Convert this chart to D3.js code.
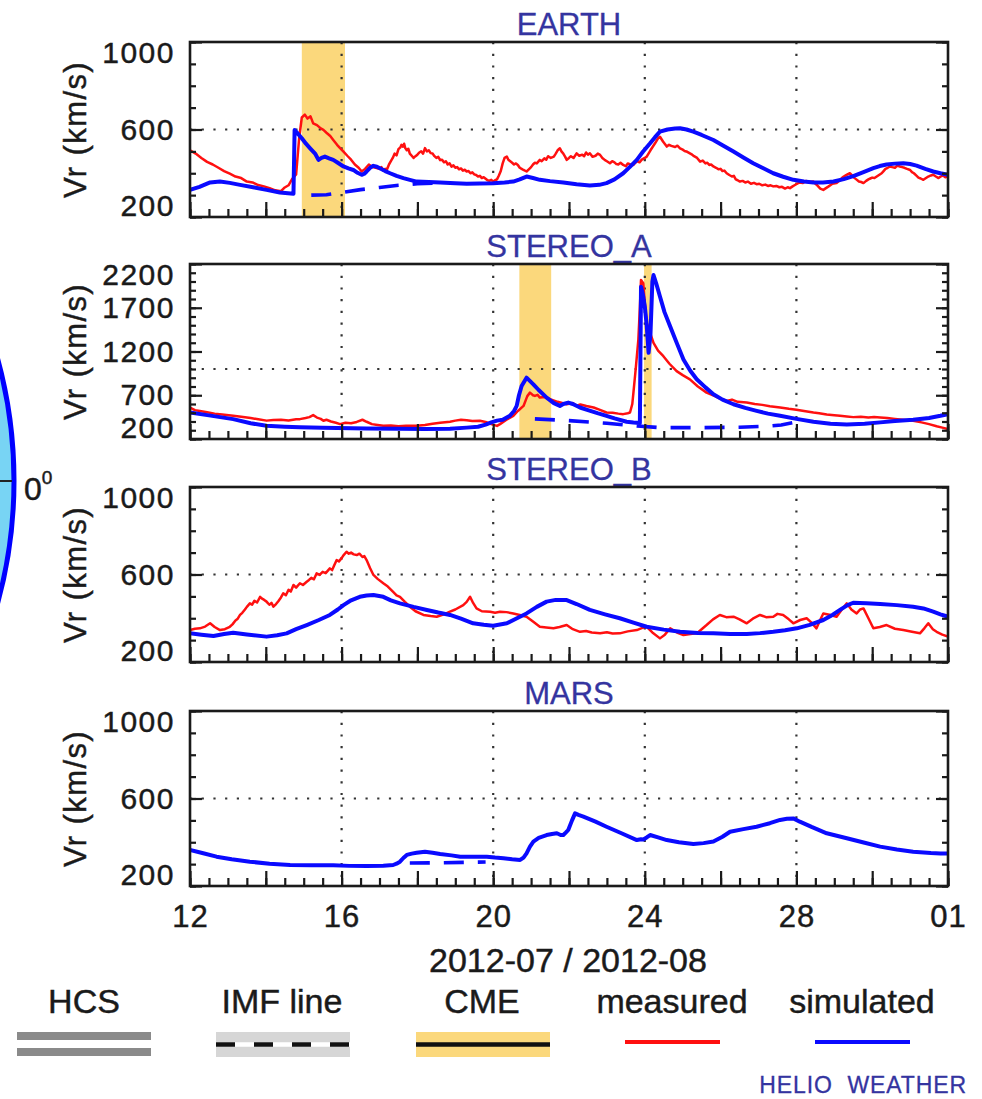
<!DOCTYPE html>
<html>
<head>
<meta charset="utf-8">
<script src="https://cdn.jsdelivr.net/npm/d3@7"></script>
<style>
  body { margin: 0; background: #fff; }
  svg { display: block; font-family: "Liberation Sans", Arial, Helvetica, sans-serif; }
</style>
</head>
<body>
<div id="chart"></div>
<script>
// ---- data: [days since 2012-07-12, Vr km/s] ----
const panelNames = ["EARTH", "STEREO_A", "STEREO_B", "MARS"];
const xTickLabels = ["12", "16", "20", "24", "28", "01"];
const xTickDays = [0, 4, 8, 12, 16, 20];
const yTicksNormal = [200, 600, 1000];
const yTicksStereoA = [200, 700, 1200, 1700, 2200];
const dateLabel = "2012-07 / 2012-08";
const legendLabels = ["HCS", "IMF line", "CME", "measured", "simulated"];

const earthMeasured = [[0,505],[0.15,490],[0.3,470],[0.45,452],[0.6,440],[0.75,425],[0.9,410],[1.05,398],[1.2,385],[1.35,378],[1.5,362],[1.65,358],[1.8,346],[1.95,340],[2.1,332],[2.25,322],[2.4,318],[2.5,335],[2.6,345],[2.7,375],[2.8,395],[2.88,560],[2.95,655],[3.03,668],[3.1,650],[3.18,660],[3.25,628],[3.35,620],[3.45,605],[3.52,598],[3.6,585],[3.7,570],[3.78,552],[3.88,530],[3.96,515],[4.05,499],[4.15,480],[4.25,462],[4.35,440],[4.45,425],[4.53,408],[4.62,420],[4.72,440],[4.8,430],[4.9,425],[5.0,420],[5.05,428],[5.1,412],[5.15,420],[5.2,418],[5.25,440],[5.3,455],[5.35,470],[5.4,490],[5.45,482],[5.5,510],[5.55,518],[5.58,530],[5.62,522],[5.65,535],[5.68,515],[5.72,505],[5.76,512],[5.8,490],[5.85,480],[5.9,470],[5.95,478],[6.0,485],[6.05,495],[6.1,500],[6.15,490],[6.2,515],[6.25,500],[6.3,505],[6.35,492],[6.4,490],[6.45,478],[6.5,470],[6.55,475],[6.6,460],[6.65,462],[6.7,450],[6.75,455],[6.8,440],[6.85,445],[6.9,430],[6.95,436],[7.0,425],[7.05,428],[7.1,418],[7.15,422],[7.2,412],[7.25,416],[7.3,408],[7.35,410],[7.4,400],[7.45,404],[7.5,395],[7.55,392],[7.6,385],[7.65,388],[7.7,378],[7.75,382],[7.8,375],[7.85,368],[7.9,365],[7.95,370],[8.0,362],[8.05,368],[8.1,372],[8.15,390],[8.2,410],[8.25,445],[8.3,470],[8.36,476],[8.4,462],[8.45,455],[8.5,448],[8.55,440],[8.6,445],[8.65,438],[8.7,425],[8.75,420],[8.8,415],[8.88,408],[8.94,418],[9.0,428],[9.05,440],[9.1,448],[9.15,445],[9.23,461],[9.28,455],[9.35,468],[9.4,462],[9.45,478],[9.52,470],[9.6,476],[9.65,490],[9.7,505],[9.76,514],[9.8,500],[9.85,490],[9.9,475],[9.94,461],[10.0,470],[10.05,478],[10.12,470],[10.2,491],[10.27,480],[10.35,485],[10.4,478],[10.45,495],[10.5,485],[10.55,491],[10.62,475],[10.7,480],[10.76,490],[10.82,484],[10.88,470],[10.95,460],[11.0,455],[11.08,446],[11.14,455],[11.2,450],[11.25,442],[11.3,440],[11.36,448],[11.43,438],[11.5,432],[11.55,445],[11.62,440],[11.7,438],[11.75,448],[11.8,455],[11.86,450],[11.92,462],[12.0,470],[12.05,476],[12.15,505],[12.27,537],[12.35,560],[12.4,567],[12.48,545],[12.58,522],[12.64,530],[12.7,525],[12.8,520],[12.86,526],[12.93,514],[13.0,508],[13.05,502],[13.12,498],[13.19,491],[13.25,485],[13.3,478],[13.38,470],[13.46,453],[13.53,458],[13.6,445],[13.65,448],[13.7,438],[13.75,440],[13.81,431],[13.88,425],[13.95,418],[14.0,420],[14.05,410],[14.1,412],[14.16,400],[14.23,392],[14.3,385],[14.35,388],[14.4,372],[14.45,368],[14.51,362],[14.58,365],[14.65,358],[14.72,362],[14.8,352],[14.88,356],[14.95,350],[15.02,352],[15.1,345],[15.18,348],[15.25,342],[15.32,345],[15.39,340],[15.47,342],[15.55,336],[15.62,338],[15.7,330],[15.77,336],[15.83,332],[15.9,340],[15.95,345],[16.02,352],[16.09,358],[16.17,355],[16.25,365],[16.35,360],[16.45,362],[16.5,352],[16.55,345],[16.63,330],[16.71,324],[16.78,332],[16.85,340],[16.95,352],[17.06,355],[17.13,365],[17.2,378],[17.25,385],[17.3,390],[17.36,396],[17.41,400],[17.47,390],[17.52,380],[17.58,372],[17.65,362],[17.71,360],[17.77,355],[17.84,365],[17.9,372],[17.95,376],[18.0,380],[18.06,378],[18.12,385],[18.18,392],[18.25,400],[18.3,410],[18.35,420],[18.41,425],[18.47,431],[18.53,428],[18.6,425],[18.66,435],[18.73,431],[18.79,428],[18.85,425],[18.92,420],[19.0,415],[19.05,405],[19.1,400],[19.16,390],[19.22,380],[19.28,376],[19.35,370],[19.42,378],[19.48,385],[19.55,390],[19.61,393],[19.68,385],[19.75,378],[19.8,384],[19.87,390],[19.93,382],[20,385]];
const earthSimulated = [[0,324],[0.25,338],[0.53,358],[0.79,362],[1.05,356],[1.32,347],[1.7,335],[2.02,324],[2.37,312],[2.73,306],[2.76,598],[2.85,580],[2.95,560],[3.06,535],[3.17,514],[3.3,490],[3.39,461],[3.47,470],[3.56,476],[3.67,468],[3.78,461],[3.9,448],[4.05,431],[4.18,422],[4.31,415],[4.42,402],[4.53,393],[4.6,398],[4.66,408],[4.75,425],[4.84,434],[4.93,430],[5.01,423],[5.15,410],[5.28,400],[5.45,388],[5.63,378],[5.8,370],[5.98,362],[6.3,360],[6.6,358],[7.0,354],[7.3,352],[7.65,353],[8.0,354],[8.3,358],[8.53,362],[8.7,372],[8.88,385],[9.05,378],[9.23,370],[9.5,364],[9.85,358],[10.2,350],[10.55,344],[10.8,347],[10.99,355],[11.2,372],[11.43,400],[11.6,428],[11.79,461],[11.95,498],[12.14,537],[12.27,565],[12.4,590],[12.6,600],[12.8,605],[12.93,606],[13.1,600],[13.28,590],[13.5,575],[13.81,552],[14.05,528],[14.34,499],[14.6,472],[14.86,446],[15.1,425],[15.39,400],[15.65,384],[15.92,370],[16.2,362],[16.45,358],[16.7,358],[16.98,362],[17.25,373],[17.5,387],[17.77,405],[18.03,423],[18.2,433],[18.38,440],[18.6,444],[18.82,446],[19.0,442],[19.17,435],[19.4,420],[19.61,408],[19.8,400],[20,393]];
const earthImf = [[3.2,300],[3.6,302],[4.0,312],[4.5,325],[5.0,335],[5.5,345],[6.0,352],[6.5,355]];
const earthCme = [[2.95,4.09]];

const stereoAMeasured = [[0,560],[0.13,530],[0.26,521],[0.45,505],[0.65,490],[0.85,480],[1.14,465],[1.35,455],[1.6,440],[1.8,425],[2.02,410],[2.2,418],[2.4,420],[2.6,412],[2.8,425],[2.9,427],[3.05,440],[3.15,450],[3.25,473],[3.35,445],[3.45,430],[3.52,408],[3.6,420],[3.72,400],[3.85,385],[3.96,370],[4.1,385],[4.25,380],[4.4,395],[4.55,420],[4.66,397],[4.8,370],[4.95,360],[5.1,351],[5.3,355],[5.5,345],[5.7,352],[5.98,351],[6.2,360],[6.4,375],[6.6,385],[6.86,397],[7.0,410],[7.15,420],[7.3,415],[7.45,405],[7.65,408],[7.8,395],[7.95,370],[8.1,350],[8.18,370],[8.35,420],[8.53,465],[8.65,520],[8.8,578],[8.9,690],[8.97,730],[9.05,700],[9.1,692],[9.17,705],[9.23,673],[9.35,680],[9.5,654],[9.7,625],[9.94,597],[10.1,610],[10.2,580],[10.3,595],[10.46,578],[10.65,560],[10.8,535],[10.99,503],[11.15,500],[11.3,490],[11.43,484],[11.55,495],[11.61,503],[11.67,600],[11.7,730],[11.76,1000],[11.83,1336],[11.87,1700],[11.9,2018],[11.96,1980],[12.0,1750],[12.05,1526],[12.15,1400],[12.23,1299],[12.35,1210],[12.49,1146],[12.65,1060],[12.84,976],[13.0,930],[13.19,882],[13.4,800],[13.63,730],[13.85,690],[14.0,660],[14.16,635],[14.3,650],[14.45,625],[14.69,616],[14.9,600],[15.1,590],[15.3,575],[15.57,560],[15.8,545],[16.0,535],[16.2,520],[16.45,503],[16.6,495],[16.8,480],[17.0,472],[17.15,465],[17.33,458],[17.5,450],[17.7,455],[17.9,445],[18.05,452],[18.21,446],[18.4,440],[18.6,430],[18.8,420],[19.08,408],[19.3,390],[19.5,370],[19.7,345],[19.85,330],[20,314]];
const stereoASimulated = [[0,503],[0.5,470],[1.14,427],[1.6,380],[2.02,351],[2.5,340],[2.9,333],[3.5,328],[4.66,321],[5.5,316],[6.2,314],[6.86,318],[7.3,330],[7.6,340],[7.8,365],[7.95,390],[8.1,410],[8.25,420],[8.44,465],[8.55,520],[8.62,578],[8.68,700],[8.75,805],[8.88,901],[9.06,825],[9.2,760],[9.41,673],[9.6,610],[9.76,578],[9.85,600],[9.98,616],[10.1,600],[10.29,560],[10.5,530],[10.75,495],[10.99,465],[11.2,435],[11.52,397],[11.7,388],[11.87,382],[11.9,1941],[11.95,1850],[12.0,1714],[12.05,1500],[12.1,1185],[12.15,1400],[12.2,2000],[12.23,2074],[12.3,1980],[12.4,1828],[12.52,1650],[12.67,1487],[12.85,1290],[13.02,1109],[13.2,980],[13.37,882],[13.6,790],[13.81,711],[14.05,650],[14.34,597],[14.65,555],[14.95,521],[15.25,490],[15.57,465],[16.0,430],[16.45,397],[16.9,375],[17.33,366],[17.8,375],[18.21,390],[18.6,405],[19.08,419],[19.5,440],[19.8,465],[20,484]];
const stereoAImf = [[9.1,430],[10.0,410],[11.0,380],[11.9,345],[12.4,330],[13.5,330],[14.5,335],[15.2,345],[15.6,360],[16.0,395]];
const stereoACme = [[8.69,9.53],[11.98,12.18]];

const stereoBMeasured = [[0,346],[0.13,352],[0.26,354],[0.4,362],[0.53,377],[0.65,360],[0.79,346],[0.92,350],[1.05,361],[1.12,372],[1.2,390],[1.26,398],[1.32,415],[1.38,425],[1.45,440],[1.5,452],[1.58,468],[1.64,462],[1.7,480],[1.77,472],[1.85,498],[1.9,490],[1.95,485],[2.02,476],[2.06,468],[2.1,462],[2.15,470],[2.2,453],[2.27,465],[2.33,478],[2.4,495],[2.46,514],[2.53,505],[2.6,530],[2.66,522],[2.73,552],[2.8,540],[2.9,560],[2.98,552],[3.08,567],[3.14,575],[3.2,585],[3.27,578],[3.34,605],[3.42,598],[3.5,612],[3.58,606],[3.69,628],[3.75,620],[3.8,640],[3.87,666],[3.93,660],[4.0,675],[4.06,690],[4.13,704],[4.19,695],[4.25,700],[4.32,692],[4.4,689],[4.47,695],[4.55,680],[4.6,684],[4.66,666],[4.75,630],[4.84,598],[4.95,580],[5.1,560],[5.22,545],[5.36,521],[5.45,505],[5.54,498],[5.67,475],[5.8,453],[5.95,432],[6.16,415],[6.35,410],[6.51,407],[6.7,418],[6.86,430],[7.0,440],[7.21,460],[7.3,475],[7.39,498],[7.47,470],[7.56,445],[7.7,432],[7.92,430],[8.05,425],[8.18,430],[8.35,428],[8.53,422],[8.7,415],[8.88,407],[9.05,385],[9.23,361],[9.4,358],[9.59,354],[9.75,360],[9.94,369],[10.1,350],[10.29,338],[10.45,342],[10.6,335],[10.82,331],[11.0,336],[11.15,330],[11.34,331],[11.55,340],[11.79,346],[11.92,355],[12.05,361],[12.2,335],[12.4,308],[12.53,325],[12.67,354],[12.85,335],[13.02,323],[13.2,328],[13.37,331],[13.5,350],[13.63,369],[13.8,395],[13.98,415],[14.15,405],[14.34,407],[14.5,395],[14.69,377],[14.85,398],[15.04,415],[15.2,405],[15.39,407],[15.5,420],[15.65,415],[15.8,395],[15.92,377],[16.1,392],[16.27,400],[16.4,380],[16.53,354],[16.62,390],[16.71,422],[16.9,415],[17.06,407],[17.2,440],[17.33,468],[17.45,440],[17.59,422],[17.68,440],[17.77,445],[17.9,400],[18.03,354],[18.2,360],[18.38,369],[18.6,352],[18.82,346],[19.05,338],[19.26,331],[19.38,355],[19.48,377],[19.6,350],[19.7,338],[19.85,325],[20,316]];
const stereoBSimulated = [[0,331],[0.3,325],[0.62,319],[0.9,328],[1.14,334],[1.5,326],[2.02,316],[2.3,322],[2.55,331],[2.8,350],[3.08,369],[3.4,392],[3.69,415],[3.9,440],[4.05,460],[4.25,482],[4.48,498],[4.66,504],[4.84,506],[5.1,498],[5.3,482],[5.54,468],[5.9,452],[6.25,438],[6.55,426],[6.86,415],[7.15,398],[7.47,377],[7.75,370],[8.0,366],[8.36,377],[8.6,398],[8.88,422],[9.15,452],[9.41,476],[9.65,484],[9.94,483],[10.2,465],[10.55,438],[10.95,418],[11.34,400],[11.7,380],[12.05,361],[12.5,348],[12.93,338],[13.4,333],[13.81,331],[14.25,328],[14.69,328],[15.04,332],[15.39,338],[15.7,345],[16.01,354],[16.35,370],[16.71,392],[16.95,415],[17.15,438],[17.35,460],[17.5,471],[17.85,469],[18.21,465],[18.65,460],[19.08,453],[19.35,445],[19.61,430],[19.8,418],[20,407]];
const stereoBImf = [];
const stereoBCme = [];

const marsMeasured = [];
const marsSimulated = [[0,365],[0.35,350],[0.7,334],[1.1,322],[1.58,311],[2.1,302],[2.64,296],[3.2,295],[3.78,295],[4.2,292],[4.66,291],[5.1,293],[5.36,296],[5.45,302],[5.54,311],[5.63,328],[5.72,342],[5.85,348],[5.98,352],[6.2,357],[6.4,352],[6.6,346],[6.9,340],[7.13,334],[7.5,334],[7.83,334],[8.05,330],[8.27,327],[8.5,322],[8.71,319],[8.8,330],[8.88,349],[8.97,380],[9.06,403],[9.2,420],[9.41,433],[9.55,438],[9.68,441],[9.78,433],[9.85,433],[9.92,445],[9.98,456],[10.08,500],[10.16,532],[10.25,525],[10.38,517],[10.7,494],[10.99,471],[11.4,440],[11.79,410],[11.9,414],[11.96,413],[12.05,422],[12.14,433],[12.35,422],[12.58,410],[12.9,400],[13.28,392],[13.55,396],[13.81,403],[14.05,425],[14.25,448],[14.6,460],[14.95,471],[15.3,487],[15.57,502],[15.75,507],[15.92,509],[16.09,494],[16.4,470],[16.8,441],[17.33,418],[17.8,398],[18.21,380],[18.65,367],[19.08,357],[19.55,351],[19.8,349],[20,349]];
const marsImf = [[5.8,305],[6.5,306],[7.2,308],[7.8,310]];
const marsCme = [];

// ---- layout ----
const W = 982, H = 1099;
const left = 190, right = 948, ph = 175;
const panelTops = [42, 264, 487, 711];
const red = "#ff1010", blue = "#0a0aff", navy = "#3434a0", ink = "#1a1a1a";
const cmeFill = "#fbd87c";
const font = "\"Liberation Sans\", Arial, sans-serif";

const panels = [
  {name: panelNames[0], ticks: yTicksNormal, grid: 600, measured: earthMeasured, simulated: earthSimulated, imf: earthImf, cme: earthCme},
  {name: panelNames[1], ticks: yTicksStereoA, grid: 1000, measured: stereoAMeasured, simulated: stereoASimulated, imf: stereoAImf, cme: stereoACme},
  {name: panelNames[2], ticks: yTicksNormal, grid: 600, measured: stereoBMeasured, simulated: stereoBSimulated, imf: stereoBImf, cme: stereoBCme},
  {name: panelNames[3], ticks: yTicksNormal, grid: 600, measured: marsMeasured, simulated: marsSimulated, imf: marsImf, cme: marsCme}
];

const t0 = Date.UTC(2012, 6, 12);
const toDate = d => new Date(t0 + d * 864e5);

const svg = d3.select("#chart").append("svg")
  .attr("width", W).attr("height", H);

const x = d3.scaleUtc().domain([toDate(0), toDate(20)]).range([left, right]);

// heavier text, like the blurred original
const heavy = sel => sel.attr("stroke", ink).attr("stroke-width", 0.45);

// partial polar plot cut off on the left edge
svg.append("circle")
  .attr("cx", -449).attr("cy", 481).attr("r", 463)
  .attr("fill", "#78d4f4").attr("stroke", "#0000ff").attr("stroke-width", 5);
svg.append("line")
  .attr("x1", 0).attr("x2", 12).attr("y1", 481).attr("y2", 481)
  .attr("stroke", "#222").attr("stroke-width", 2);
const deg = svg.append("text").attr("x", 24).attr("y", 500)
  .attr("font-size", 32).attr("fill", ink).call(heavy).text("0");
deg.append("tspan").attr("font-size", 19).attr("dy", -16).text("0");

const defs = svg.append("defs");

panels.forEach((p, i) => {
  const yMax = p.ticks[p.ticks.length - 1];
  const y = d3.scaleLinear().domain([200, yMax]).range([ph, 0]);
  const g = svg.append("g").attr("transform", `translate(0,${panelTops[i]})`);

  defs.append("clipPath").attr("id", "clip" + i)
    .append("rect").attr("x", left).attr("y", 0).attr("width", right - left).attr("height", ph);

  // title
  g.append("text")
    .attr("x", (left + right) / 2).attr("y", -7)
    .attr("text-anchor", "middle")
    .attr("font-size", 31).attr("fill", navy)
    .attr("stroke", navy).attr("stroke-width", 0.3)
    .text(p.name);

  // y label
  g.append("text")
    .attr("transform", `translate(86,${ph / 2}) rotate(-90)`)
    .attr("text-anchor", "middle")
    .attr("font-size", 31).attr("letter-spacing", 1.4).attr("fill", ink)
    .call(heavy)
    .text("Vr (km/s)");

  const inner = g.append("g").attr("clip-path", `url(#clip${i})`);

  // CME intervals
  inner.selectAll("rect.cme").data(p.cme).enter().append("rect")
    .attr("class", "cme")
    .attr("x", d => x(toDate(d[0])))
    .attr("width", d => x(toDate(d[1])) - x(toDate(d[0])))
    .attr("y", 0).attr("height", ph)
    .attr("fill", cmeFill);

  // dotted grid
  inner.selectAll("line.vgrid").data([4, 8, 12, 16]).enter().append("line")
    .attr("class", "vgrid")
    .attr("x1", d => x(toDate(d))).attr("x2", d => x(toDate(d)))
    .attr("y1", 0).attr("y2", ph)
    .attr("stroke", "#333").attr("stroke-width", 2.2).attr("stroke-dasharray", "2.2,9.5");
  inner.append("line")
    .attr("x1", left).attr("x2", right)
    .attr("y1", y(p.grid)).attr("y2", y(p.grid))
    .attr("stroke", "#333").attr("stroke-width", 2.2).attr("stroke-dasharray", "2.2,9.5");

  const line = d3.line().x(d => x(toDate(d[0]))).y(d => y(d[1]));

  if (p.measured.length) {
    inner.append("path").datum(p.measured)
      .attr("d", line).attr("fill", "none")
      .attr("stroke", red).attr("stroke-width", 2.5).attr("stroke-linejoin", "round");
  }
  if (p.imf.length) {
    inner.append("path").datum(p.imf)
      .attr("d", line).attr("fill", "none")
      .attr("stroke", blue).attr("stroke-width", 3.6).attr("stroke-dasharray", "20,14");
  }
  inner.append("path").datum(p.simulated)
    .attr("d", line).attr("fill", "none")
    .attr("stroke", blue).attr("stroke-width", 4).attr("stroke-linejoin", "round");

  // axes
  const minorY = d3.range(200, yMax + 1, 100);
  const tickStyle = sel => {
    sel.select(".domain").remove();
    sel.selectAll("line").attr("stroke", ink).attr("stroke-width", 2.2);
  };

  g.append("g").attr("transform", `translate(${left},0)`)
    .call(d3.axisLeft(y).tickValues(minorY).tickSize(-6).tickFormat(""))
    .call(tickStyle);
  const ly = g.append("g").attr("transform", `translate(${left},0)`)
    .call(d3.axisLeft(y).tickValues(p.ticks).tickSize(-12).tickPadding(15).tickFormat(d3.format("d")))
    .call(tickStyle);
  ly.selectAll("text")
    .attr("font-size", 30).attr("letter-spacing", 1.5).attr("fill", ink)
    .attr("font-family", font).call(heavy)
    .attr("transform", d => d === yMax ? "translate(0,11)" : d === 200 ? "translate(0,-11)" : null);

  g.append("g").attr("transform", `translate(${right},0)`)
    .call(d3.axisRight(y).tickValues(minorY).tickSize(-6).tickFormat(""))
    .call(tickStyle);
  g.append("g").attr("transform", `translate(${right},0)`)
    .call(d3.axisRight(y).tickValues(p.ticks).tickSize(-12).tickFormat(""))
    .call(tickStyle);

  const minorX = d3.range(0, 20.01, 0.5).map(toDate);
  const majorX = d3.range(0, 20.01, 2).map(toDate);
  g.append("g").attr("transform", `translate(0,${ph})`)
    .call(d3.axisBottom(x).tickValues(minorX).tickSize(-8).tickFormat(""))
    .call(tickStyle);
  g.append("g").attr("transform", `translate(0,${ph})`)
    .call(d3.axisBottom(x).tickValues(majorX).tickSize(-15).tickFormat(""))
    .call(tickStyle);

  if (i === panels.length - 1) {
    const lx = g.append("g").attr("transform", `translate(0,${ph})`)
      .call(d3.axisBottom(x).tickValues(xTickDays.map(toDate)).tickSize(0).tickPadding(19)
        .tickFormat((d, k) => xTickLabels[k]));
    lx.select(".domain").remove();
    lx.selectAll("text").attr("font-size", 31).attr("letter-spacing", 1).attr("fill", ink)
      .attr("font-family", font).call(heavy);
  }

  // frame
  g.append("rect")
    .attr("x", left).attr("y", 0).attr("width", right - left).attr("height", ph)
    .attr("fill", "none").attr("stroke", ink).attr("stroke-width", 2.6);
});

// date label
svg.append("text")
  .attr("x", 568).attr("y", 972).attr("text-anchor", "middle")
  .attr("font-size", 34).attr("fill", ink).call(heavy)
  .text(dateLabel);

// legend
const legendX = [84, 282, 482, 672, 862];
const lg = svg.append("g");
lg.selectAll("text").data(legendLabels).enter().append("text")
  .attr("x", (d, k) => legendX[k]).attr("y", 1013)
  .attr("text-anchor", "middle").attr("font-size", 34).attr("fill", ink)
  .call(heavy)
  .text(d => d);

// HCS: two grey bars
[1032, 1048].forEach(yy => {
  lg.append("rect").attr("x", 17).attr("y", yy).attr("width", 134).attr("height", 8).attr("fill", "#8a8a8a");
});
// IMF line: light band with black/white dashes
lg.append("rect").attr("x", 216).attr("y", 1032).attr("width", 134).attr("height", 25).attr("fill", "#d6d6d6");
lg.append("line").attr("x1", 216).attr("x2", 350).attr("y1", 1044.5).attr("y2", 1044.5)
  .attr("stroke", "#fff").attr("stroke-width", 4.5);
lg.append("line").attr("x1", 216).attr("x2", 350).attr("y1", 1044.5).attr("y2", 1044.5)
  .attr("stroke", "#111").attr("stroke-width", 4.5).attr("stroke-dasharray", "19,19");
// CME: yellow band with black line
lg.append("rect").attr("x", 416).attr("y", 1032).attr("width", 134).attr("height", 25).attr("fill", cmeFill);
lg.append("line").attr("x1", 416).attr("x2", 550).attr("y1", 1044.5).attr("y2", 1044.5)
  .attr("stroke", "#111").attr("stroke-width", 4.5);
// measured / simulated
lg.append("line").attr("x1", 625).attr("x2", 720).attr("y1", 1042).attr("y2", 1042)
  .attr("stroke", red).attr("stroke-width", 4);
lg.append("line").attr("x1", 815).attr("x2", 910).attr("y1", 1042).attr("y2", 1042)
  .attr("stroke", blue).attr("stroke-width", 4);

svg.append("text")
  .attr("x", 967).attr("y", 1093).attr("text-anchor", "end")
  .attr("font-size", 23).attr("letter-spacing", 0.9).attr("fill", navy)
  .attr("stroke", navy).attr("stroke-width", 0.3)
  .attr("xml:space", "preserve")
  .text("HELIO  WEATHER");
</script>
</body>
</html>
